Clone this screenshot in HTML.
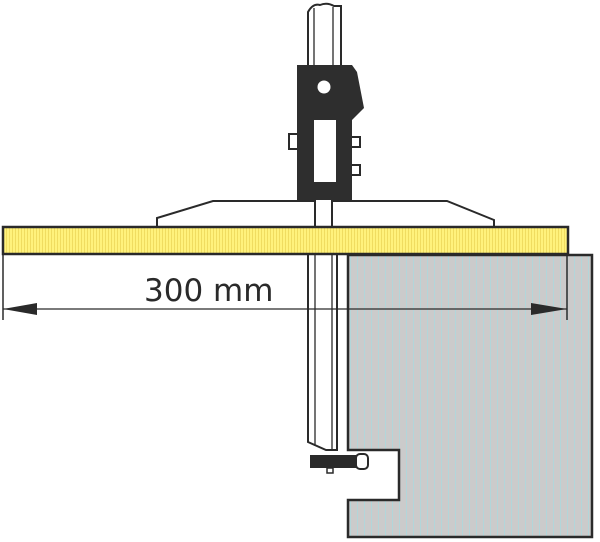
<!DOCTYPE html>
<html><head><meta charset="utf-8"><style>
html,body{margin:0;padding:0;background:#fff;width:600px;height:542px;overflow:hidden}
</style></head><body>
<svg width="600" height="542" viewBox="0 0 600 542" xmlns="http://www.w3.org/2000/svg">
<defs>
<pattern id="gy" width="7" height="7" patternUnits="userSpaceOnUse"><rect width="7" height="7" fill="#cbcbcb"/><rect width="1" height="7" fill="#b2d6da"/></pattern>
<pattern id="yl" width="3" height="3" patternUnits="userSpaceOnUse"><rect width="3" height="3" fill="#fff27c"/><rect width="1" height="3" fill="#f0dc60"/></pattern>
</defs>
<path d="M348,255 L592,255 L592,537 L348,537 L348,500 L399,500 L399,450 L348,450 Z" fill="url(#gy)" stroke="#2a2a2a" stroke-width="2.5"/>
<path d="M308,254 L308,442 L326,450 L337,450 L337,254" fill="#fff" stroke="#2a2a2a" stroke-width="2"/>
<line x1="315" y1="254" x2="315" y2="446" stroke="#2a2a2a" stroke-width="1.3"/>
<line x1="332" y1="254" x2="332" y2="450" stroke="#2a2a2a" stroke-width="1.3"/>
<rect x="310" y="455" width="50" height="13" fill="#2a2a2a"/>
<rect x="356" y="454" width="12" height="15" rx="4" fill="#fff" stroke="#2a2a2a" stroke-width="2"/>
<rect x="327" y="468" width="6" height="5" fill="#fff" stroke="#2a2a2a" stroke-width="1.5"/>
<path d="M157,227 L157,218 L213,201 L447,201 L494,220 L494,227" fill="#fff" stroke="#2a2a2a" stroke-width="2"/>
<rect x="315" y="198" width="17" height="30" fill="#fff" stroke="#2a2a2a" stroke-width="2"/>
<rect x="3" y="227" width="565" height="27" fill="url(#yl)" stroke="#2a2a2a" stroke-width="2.5"/>
<path d="M308,200 L308,12 Q313,3 320,5 Q327,2 334,6 L341,6 L341,200" fill="#fff" stroke="#2a2a2a" stroke-width="2"/>
<line x1="314" y1="8" x2="314" y2="66" stroke="#2a2a2a" stroke-width="1.3"/>
<line x1="333" y1="7" x2="333" y2="66" stroke="#2a2a2a" stroke-width="1.3"/>
<rect x="289" y="134" width="10" height="15" fill="#fff" stroke="#2a2a2a" stroke-width="2"/>
<rect x="350" y="137" width="10" height="10" fill="#fff" stroke="#2a2a2a" stroke-width="2"/>
<rect x="350" y="165" width="10" height="10" fill="#fff" stroke="#2a2a2a" stroke-width="2"/>
<path d="M297,65 L352,65 L357,72 L364,108 L352,120 L352,200 L297,200 Z" fill="#2e2e2e"/>
<circle cx="324" cy="87" r="6.5" fill="#fff"/>
<rect x="314" y="120" width="22" height="62" fill="#fff"/>
<line x1="3" y1="254" x2="3" y2="320" stroke="#2a2a2a" stroke-width="1.5"/>
<line x1="567" y1="254" x2="567" y2="320" stroke="#2a2a2a" stroke-width="1.5"/>
<line x1="3" y1="309" x2="567" y2="309" stroke="#2a2a2a" stroke-width="1.3"/>
<path d="M3,309 L37,303 L37,315 Z" fill="#2a2a2a"/>
<path d="M567,309 L531,303 L531,315 Z" fill="#2a2a2a"/>
<text x="144" y="301" font-family="'DejaVu Sans','Liberation Sans',sans-serif" font-size="31" fill="#2a2a2a">300 mm</text>
</svg>
</body></html>
